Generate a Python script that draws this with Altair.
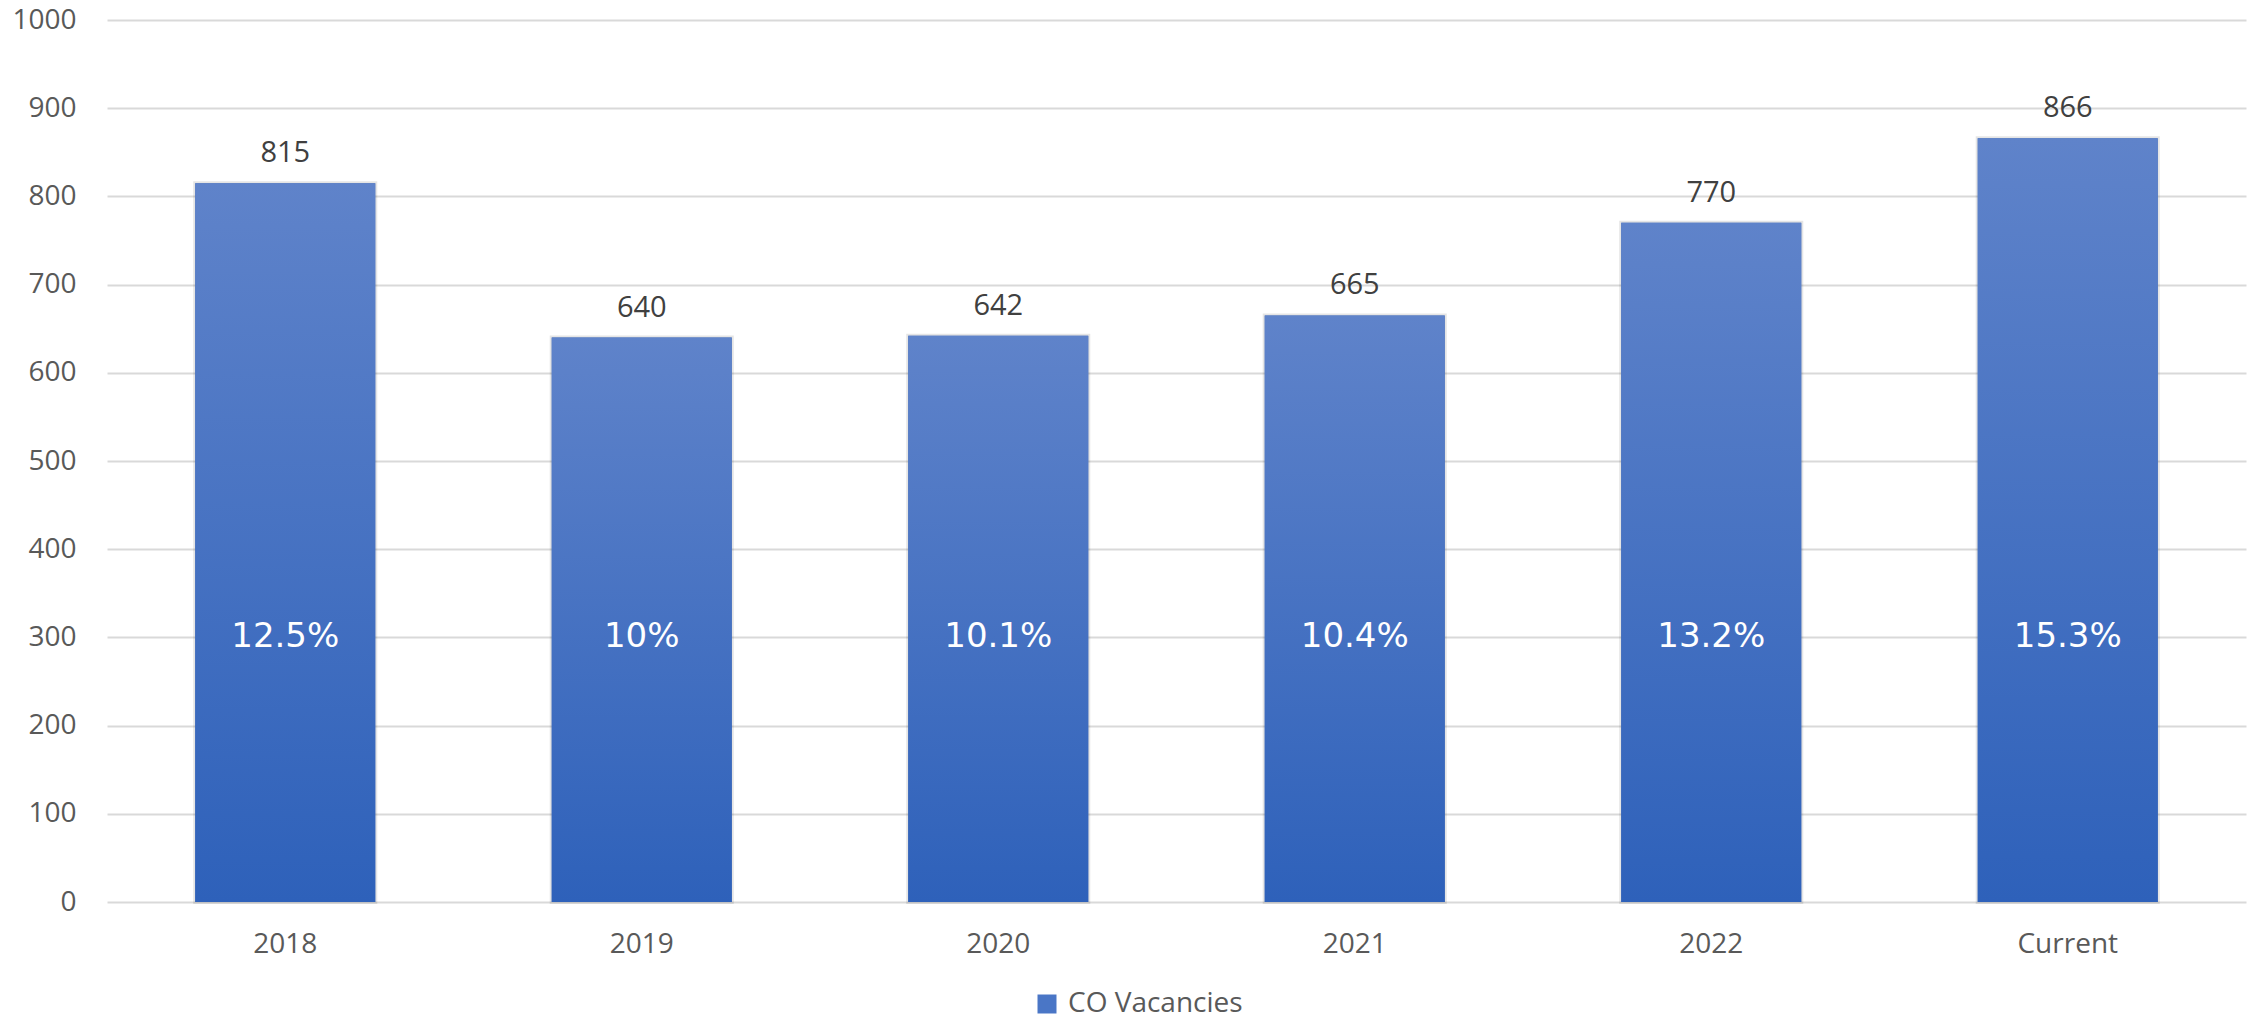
import altair as alt
import pandas as pd

categories = ["2018", "2019", "2020", "2021", "2022", "Current"]
vacancies = [815, 640, 642, 665, 770, 866]
rates = ["12.5%", "10%", "10.1%", "10.4%", "13.2%", "15.3%"]
series_name = "CO Vacancies"
y_ticks = [0, 100, 200, 300, 400, 500, 600, 700, 800, 900, 1000]
rate_label_level = 300

df = pd.DataFrame({
    "year": categories,
    "value": vacancies,
    "rate": rates,
    "series": [series_name] * len(categories),
})

FONT = "Open Sans"
GREY = "#595959"

x_enc = alt.X(
    "year:N", sort=categories, title=None,
    scale=alt.Scale(paddingInner=0.495, paddingOuter=0.2475),
    axis=alt.Axis(labelAngle=0, labelFont=FONT, labelFontSize=28, labelColor=GREY,
                  labelPadding=28, ticks=False, domain=False, grid=False),
)
y_enc = alt.Y(
    "value:Q", title=None,
    scale=alt.Scale(domain=[0, 1000], nice=False),
    axis=alt.Axis(values=y_ticks, format="d", labelFont=FONT, labelFontSize=28, labelColor=GREY,
                  labelPadding=31, ticks=False, domain=False,
                  gridColor="#D9D9D9", gridWidth=2),
)

gradient = alt.Gradient(
    gradient="linear", x1=0, y1=0, x2=0, y2=1,
    stops=[alt.GradientStop(color="#5F83CA", offset=0),
           alt.GradientStop(color="#2E61BA", offset=1)],
)

base = alt.Chart(df)

legend_bars = base.mark_bar(stroke="#000000", strokeOpacity=0.10, strokeWidth=4).encode(
    x=x_enc, y=y_enc,
    color=alt.Color("series:N", scale=alt.Scale(range=["#4A76C6"]),
                    legend=alt.Legend(title=None, orient="none", legendX=926, legendY=970,
                                      symbolType="square", symbolSize=361,
                                      symbolStrokeWidth=0, labelLimit=500,
                                      labelFont=FONT, labelFontSize=28, labelColor=GREY,
                                      labelOffset=7)),
)

grad_bars = base.mark_bar(fill=gradient).encode(x=x_enc, y=y_enc)

value_text = base.mark_text(baseline="alphabetic", dy=-21, font=FONT, fontSize=29,
                            color="#404040").encode(x=x_enc, y=y_enc, text="value:Q")

rate_text = base.mark_text(baseline="middle", font="DejaVu Sans", fontSize=34,
                           color="white").encode(
    x=x_enc, y=alt.YDatum(rate_label_level, type="quantitative", title=None), text="rate:N")

chart = alt.layer(legend_bars, grad_bars, value_text, rate_text).properties(
    width=2139, height=882,
    autosize=alt.AutoSizeParams(type="none"),
    padding={"left": 107, "top": 20, "right": 13, "bottom": 119},
).configure_view(stroke=None)

chart.save("out.html", embed_options={"renderer": "svg", "actions": False})
